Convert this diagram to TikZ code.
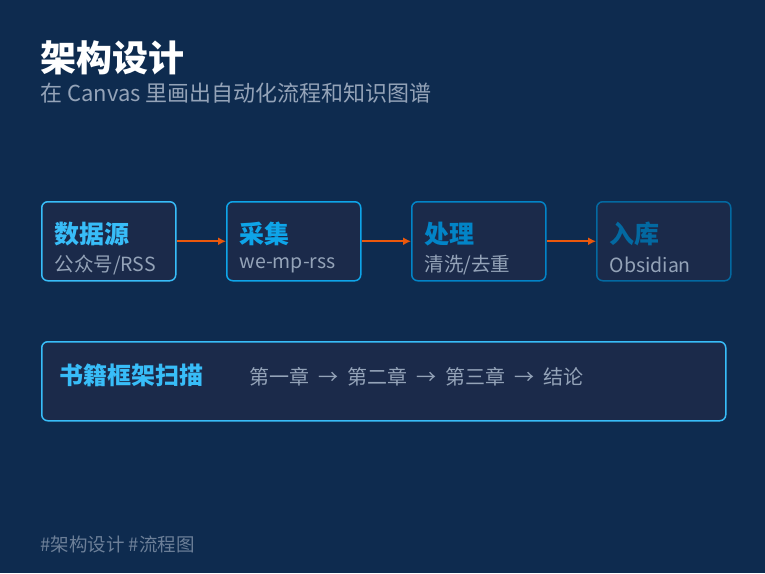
\documentclass[tikz,border=0pt]{standalone}
\usepackage{fontspec}
\setmainfont{Noto Sans CJK SC}
\usetikzlibrary{arrows.meta}
\definecolor{bgc}{HTML}{0E2B4F}
\definecolor{boxc}{HTML}{1B2A4A}
\definecolor{grayt}{HTML}{94A3B8}
\definecolor{arr}{HTML}{EA580C}
\definecolor{cA}{HTML}{38BDF8}
\definecolor{cB}{HTML}{0EA5E9}
\definecolor{cC}{HTML}{0284C7}
\definecolor{cD}{HTML}{0369A1}
\begin{document}
\begin{tikzpicture}[
    x=1pt, y=-1pt,
    stage/.style={rectangle, draw, fill=boxc, line width=1.5pt, rounded corners=6pt,
      minimum width=134pt, minimum height=79pt, anchor=north west},
    head/.style={anchor=west, font=\bfseries\fontsize{25}{27}\selectfont},
    sub/.style={anchor=west, text=grayt, font=\fontsize{19.5}{21}\selectfont},
    flow/.style={-{Latex[length=8pt,width=8pt]}, arr, line width=2pt}
]
    \fill[bgc] (0,0) rectangle (765,573);
    % Title
    \node[anchor=west, text=white, font=\bfseries\fontsize{36}{38}\selectfont] (title) at (37,58) {架构设计};
    \node[anchor=west, text=grayt, font=\fontsize{22}{24}\selectfont] (subtitle) at (37,93) {在 Canvas 里画出自动化流程和知识图谱};
    
    % Stages
    \node[stage, draw=cA] (src) at (41,201) {};
    \node[stage, draw=cB] (col) at (226,201) {};
    \node[stage, draw=cC] (proc) at (411,201) {};
    \node[stage, draw=cD] (store) at (596,201) {};
    \node[head, text=cA] at (51,234) {数据源};
    \node[sub] at (51,265) {公众号/RSS};
    \node[head, text=cB] at (236,234) {采集};
    \node[sub] at (236,265) {we-mp-rss};
    \node[head, text=cC] at (421,234) {处理};
    \node[sub] at (421,265) {清洗/去重};
    \node[head, text=cD] at (606,234) {入库};
    \node[sub] at (606,265) {Obsidian};
    
    % Connections
    \draw[flow] (src) -- (col);
    \draw[flow] (col) -- (proc);
    \draw[flow] (proc) -- (store);
    
    % Book scan
    \node[stage, draw=cA, minimum width=684pt] (scan) at (41,341) {};
    \node[anchor=west, text=cA, font=\bfseries\fontsize{24}{26}\selectfont] (scanhead) at (56,375) {书籍框架扫描};
    \node[anchor=west, text=grayt, font=\fontsize{20}{22}\selectfont] (chapters) at (246,377)
      {第一章\ \ →\ \ 第二章\ \ →\ \ 第三章\ \ →\ \ 结论};
    
    % Tags
    \node[anchor=west, text=grayt!70!bgc, font=\fontsize{18.5}{20}\selectfont] (tags) at (37,544) {\#架构设计 \#流程图};
\end{tikzpicture}
\end{document}
